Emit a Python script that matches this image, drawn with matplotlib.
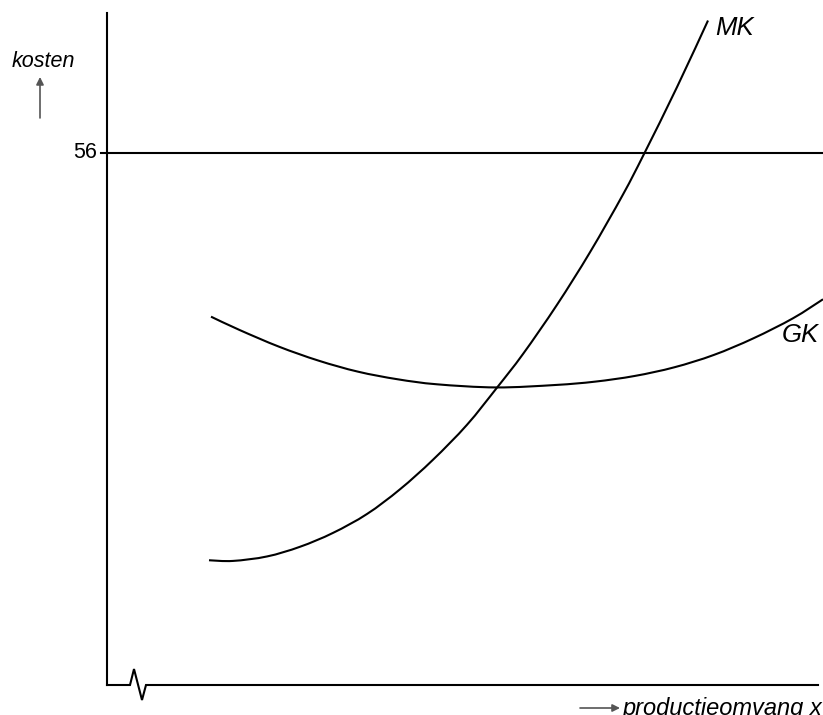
import matplotlib
matplotlib.use("Agg")
import matplotlib.pyplot as plt
from matplotlib.path import Path
from matplotlib.patches import PathPatch

plt.rcParams['font.family'] = ['Liberation Sans', 'DejaVu Sans']

# marginale kosten (MK) en gemiddelde kosten (GK)
mk_x = [10.2, 12.6, 16.0, 19.3, 22.6, 26.0, 29.3, 32.6, 36.0, 39.0,
        41.6, 45.0, 48.3, 51.6, 53.7, 57.0, 60.1]
mk_y = [13.13, 13.06, 13.53, 14.55, 16.01, 18.0, 20.6, 23.71, 27.39, 31.3,
        34.84, 40.02, 45.55, 51.63, 55.89, 62.93, 69.94]
gk_x = [10.4, 13.25, 17.2, 21.16, 25.1, 29.06, 33.0, 38.94, 44.87, 48.8,
        52.78, 56.73, 60.68, 64.64, 68.6, 71.6]
gk_y = [38.77, 37.37, 35.61, 34.14, 32.98, 32.18, 31.65, 31.32, 31.58, 31.93,
        32.53, 33.44, 34.74, 36.49, 38.6, 40.6]
prijs = 56
y_top = 70.74


def vloeiend(xs, ys):
    # gladde kromme door de punten (catmull-rom als bezier)
    pts = list(zip(xs, ys))
    verts = [pts[0]]
    codes = [Path.MOVETO]
    for i in range(len(pts) - 1):
        p0 = pts[i - 1] if i > 0 else pts[i]
        p1 = pts[i]
        p2 = pts[i + 1]
        p3 = pts[i + 2] if i + 2 < len(pts) else pts[i + 1]
        c1 = (p1[0] + (p2[0] - p0[0]) / 6, p1[1] + (p2[1] - p0[1]) / 6)
        c2 = (p2[0] - (p3[0] - p1[0]) / 6, p2[1] - (p3[1] - p1[1]) / 6)
        verts += [c1, c2, p2]
        codes += [Path.CURVE4] * 3
    return Path(verts, codes)


fig = plt.figure(figsize=(8.23, 7.15), dpi=100)
ax = fig.add_axes([107/823, 30/715, 716/823, 685/715])
ax.set_xlim(0, 71.6)
ax.set_ylim(0, 72.1)
ax.axis('off')

lw = 1.5
# assen, x-as onderbroken
ax.plot([0, 0], [0, y_top], color='black', lw=lw, clip_on=False)
ax.plot([0, 2.3, 2.7, 3.5, 3.9, 71.1], [0, 0, 1.68, -1.58, 0, 0],
        color='black', lw=lw, clip_on=False, solid_joinstyle='miter')

# horizontale lijn bij 56
ax.plot([-0.6, 71.6], [prijs, prijs], color='black', lw=lw, clip_on=False)
ax.text(-1.0, prijs, '56', ha='right', va='center', fontsize=15.5)

for xs, ys in [(mk_x, mk_y), (gk_x, gk_y)]:
    ax.add_patch(PathPatch(vloeiend(xs, ys), facecolor='none', edgecolor='black',
                           lw=lw, clip_on=False))

ax.text(60.8, (685-28)/9.5, 'MK', style='italic', fontsize=18.5, va='center', ha='left')
ax.text(67.5, (685-335)/9.5, 'GK', style='italic', fontsize=18.5, va='center', ha='left')

# aslabels met pijltjes
pijl = dict(arrowstyle='-|>', color='#555555', lw=1.2, mutation_scale=11,
            shrinkA=0, shrinkB=0, facecolor='black')
ax.text(-6.4, (685-62)/9.5, 'kosten', style='italic', fontsize=15.5, ha='center', va='center')
ax.annotate('', xy=(-6.7, (685-77)/9.5), xytext=(-6.7, (685-118)/9.5),
            arrowprops=pijl, annotation_clip=False)
ax.annotate('', xy=(51.3, (685-708)/9.5), xytext=(47.3, (685-708)/9.5),
            arrowprops=pijl, annotation_clip=False)
ax.text(51.6, (685-715)/9.5, 'productieomvang x', style='italic', fontsize=17,
        ha='left', va='baseline')

fig.savefig('out.png', dpi=100)
